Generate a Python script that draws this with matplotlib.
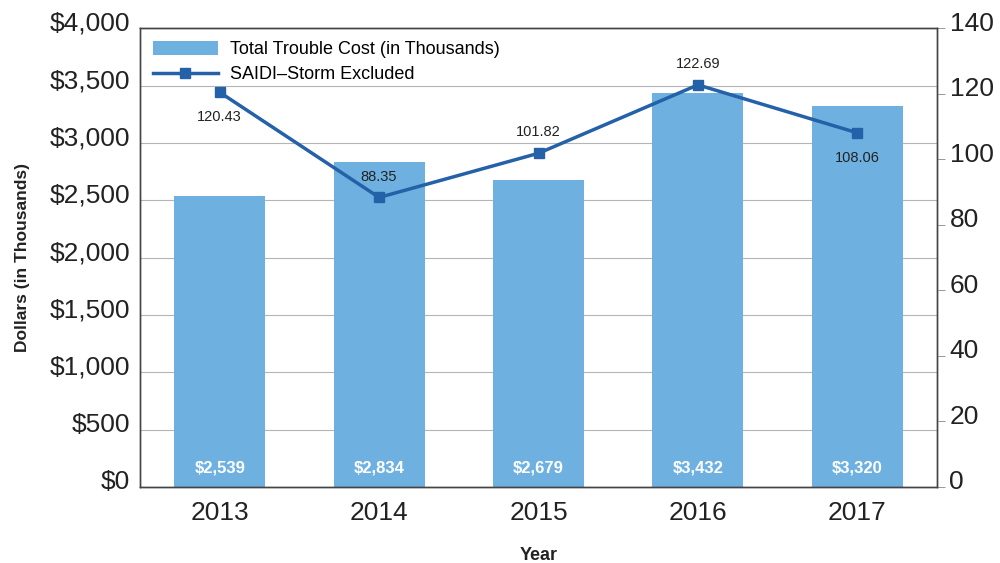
import matplotlib
matplotlib.use("Agg")
import matplotlib.pyplot as plt
from matplotlib.transforms import ScaledTranslation
import numpy as np

years = ["2013", "2014", "2015", "2016", "2017"]
trouble_cost = [2539, 2834, 2679, 3432, 3320]
saidi = [120.43, 88.35, 101.82, 122.69, 108.06]
saidi_label_below = [True, False, False, False, True]

left_ticks = np.arange(0, 4001, 500)
right_ticks = np.arange(0, 141, 20)

bar_color = "#6EB1E1"
line_color = "#2461A8"
text_color = "#222222"

plt.rcParams["font.family"] = ["Liberation Sans", "DejaVu Sans"]

fig = plt.figure(figsize=(10, 5.63), dpi=100)
ax = fig.add_axes([0.140, 0.135, 0.797, 0.815])
ax2 = ax.twinx()

x = np.arange(len(years))
bars = ax.bar(x, trouble_cost, width=0.57, color=bar_color, zorder=2,
              label="Total Trouble Cost (in Thousands)")
for xi, v in zip(x, trouble_cost):
    ax.annotate(f"${v:,}", (xi, 0), xytext=(0, 14), textcoords="offset points",
                ha="center", va="center", color="white",
                fontsize=12, fontweight="bold", zorder=3)

ax.set_xlim(-0.5, 4.5)
ax.set_ylim(0, 4000)
ax.set_yticks(left_ticks)
ax.set_yticklabels([f"${v:,}" for v in left_ticks])
ax.tick_params(axis="y", length=0, labelsize=19, pad=7, colors=text_color)
ax.set_xticks(x)
ax.set_xticklabels(years)
ax.tick_params(axis="x", length=0, labelsize=19, pad=10, colors=text_color)
ax.grid(axis="y", color="#b5b5b5", linewidth=0.8, zorder=0)
ax.set_axisbelow(True)
for s in ax.spines.values():
    s.set_color("#444444")
    s.set_linewidth(1.0)

# tick labels sit a little above their gridlines in the original
shift = ScaledTranslation(0, 7 / 100, fig.dpi_scale_trans)
for lab in ax.get_yticklabels():
    lab.set_transform(lab.get_transform() + shift)

ax.set_ylabel("Dollars (in Thousands)", fontsize=12.5, fontweight="bold",
              color=text_color, labelpad=14)
ax.set_xlabel("Year", fontsize=13, fontweight="bold", color=text_color,
              labelpad=16)

line, = ax2.plot(x, saidi, color=line_color, linewidth=2.5, marker="s",
                 markersize=7, label="SAIDI\u2013Storm Excluded", zorder=4)
for xi, v, below in zip(x, saidi, saidi_label_below):
    off = -18 if below else 15
    ax2.annotate(f"{v:.2f}", (xi, v), xytext=(0, off),
                 textcoords="offset points", ha="center", va="center",
                 fontsize=10.5, color=text_color)
ax2.set_ylim(0, 140)
ax2.set_yticks(right_ticks)
ax2.tick_params(axis="y", length=6, width=0.6, labelsize=19, pad=3,
                colors=text_color)
ax2.tick_params(axis="y", color="#888888")
for lab in ax2.get_yticklabels():
    lab.set_transform(lab.get_transform() + shift)
for s in ax2.spines.values():
    s.set_color("#444444")
    s.set_linewidth(1.0)

ax.legend([bars, line], [bars.get_label(), line.get_label()],
          loc="upper left", bbox_to_anchor=(0.0, 1.0), frameon=False,
          fontsize=13, handlelength=3.6, handleheight=0.8, handletextpad=0.7,
          borderaxespad=0.3, labelspacing=0.45)

fig.savefig("out.png", dpi=100)
